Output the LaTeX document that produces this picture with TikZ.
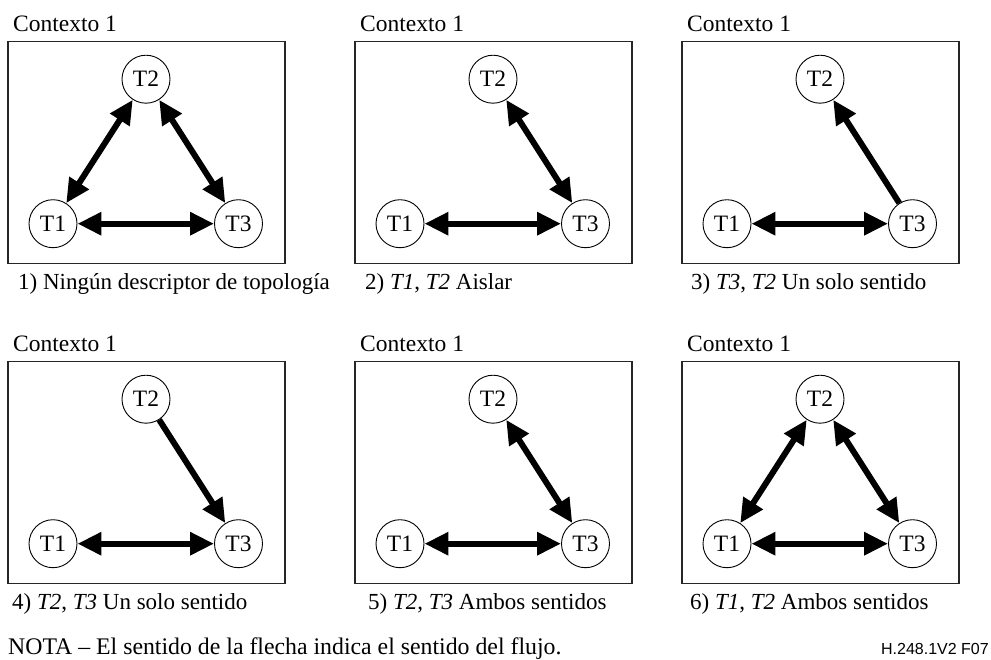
\documentclass[tikz,border=0pt]{standalone}
\usepackage{fontspec}
\setmainfont{Liberation Serif}
\newfontfamily\figsans{Liberation Sans}
\usetikzlibrary{arrows.meta}

\tikzset{
  frame/.style={draw=black!85, line width=1.2pt},
  term/.style={circle, draw, line width=0.9pt, minimum size=48pt, inner sep=0pt,
               font=\fontsize{23.5}{28}\selectfont},
  flow/.style={line width=6pt, -{Triangle[length=24pt,width=22pt]}},
  biflow/.style={line width=6pt,
                 {Triangle[length=24pt,width=22pt]}-{Triangle[length=24pt,width=22pt]}},
  heading/.style={anchor=base west, inner sep=0pt, font=\fontsize{23.5}{28}\selectfont},
  caption/.style={anchor=base west, inner sep=0pt, font=\fontsize{23}{28}\selectfont},
}

% One context: frame, title and the three terminations T1, T2, T3
% #1 = name prefix, #2/#3 = top-left corner of the frame
\newcommand\ctxpanel[3]{%
  \node[heading] (#1title) at ({#2+5},{#3-10}) {Contexto 1};
  \draw[frame] (#2,#3) rectangle ++(277,221.5);
  \node[term] (#1T2) at ({#2+138},{#3+37.5}) {T2};
  \node[term] (#1T1) at ({#2+45},{#3+182}) {T1};
  \node[term] (#1T3) at ({#2+230.5},{#3+182}) {T3};
}

\begin{document}
\begin{tikzpicture}[x=1pt, y=-1pt]
  \useasboundingbox (0,0) rectangle (991,659);

  % top row
  \ctxpanel{a}{8}{41.7}
  \ctxpanel{b}{355}{41.7}
  \ctxpanel{c}{682}{41.7}
  % bottom row
  \ctxpanel{d}{8}{361.7}
  \ctxpanel{e}{355}{361.7}
  \ctxpanel{f}{682}{361.7}

  % 1) no topology descriptor
  \draw[biflow] (aT1) -- (aT2);
  \draw[biflow] (aT2) -- (aT3);
  \draw[biflow] (aT1) -- (aT3);
  % 2) T1, T2 isolate
  \draw[biflow] (bT2) -- (bT3);
  \draw[biflow] (bT1) -- (bT3);
  % 3) T3, T2 oneway
  \draw[flow] (cT3) -- (cT2);
  \draw[biflow] (cT1) -- (cT3);
  % 4) T2, T3 oneway
  \draw[flow] (dT2) -- (dT3);
  \draw[biflow] (dT1) -- (dT3);
  % 5) T2, T3 bothway
  \draw[biflow] (eT2) -- (eT3);
  \draw[biflow] (eT1) -- (eT3);
  % 6) T1, T2 bothway
  \draw[biflow] (fT1) -- (fT2);
  \draw[biflow] (fT2) -- (fT3);
  \draw[biflow] (fT1) -- (fT3);

  % captions
  \node[caption] (cap1) at (18,289) {1) Ningún descriptor de topología};
  \node[caption] (cap2) at (365,289) {2) \textit{T1}, \textit{T2} Aislar};
  \node[caption] (cap3) at (691,289) {3) \textit{T3}, \textit{T2} Un solo sentido};
  \node[caption] (cap4) at (12,609) {4) \textit{T2}, \textit{T3} Un solo sentido};
  \node[caption] (cap5) at (368,609) {5) \textit{T2}, \textit{T3} Ambos sentidos};
  \node[caption] (cap6) at (690,609) {6) \textit{T1}, \textit{T2} Ambos sentidos};

  \node[caption, font=\fontsize{23.8}{28}\selectfont] (note) at (8,654)
    {NOTA -- El sentido de la flecha indica el sentido del flujo.};
  \node[anchor=base east, inner sep=0pt, font=\figsans\fontsize{16}{19}\selectfont] (tag)
    at (989,654) {H.248.1V2 F07};
\end{tikzpicture}
\end{document}
